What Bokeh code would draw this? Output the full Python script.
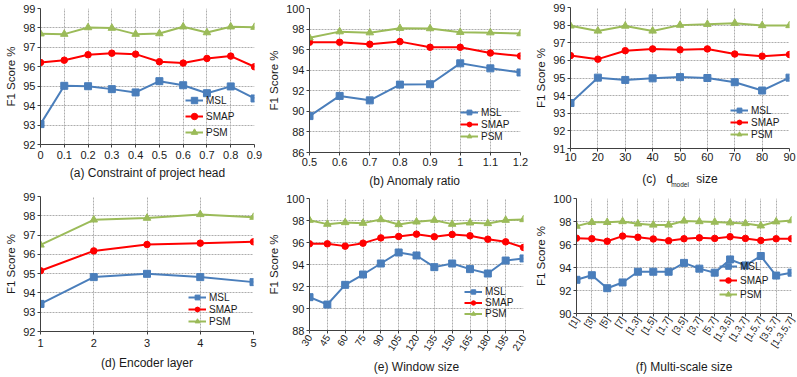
import math
from bokeh.plotting import figure
from bokeh.layouts import column, row
from bokeh.models import (Range1d, FixedTicker, CustomJSTickFormatter, Legend,
                          LegendItem, LinearAxis)
from bokeh.embed import file_html
from bokeh.resources import INLINE

FONT = "Liberation Sans"
TXT = "#1a1a1a"
MSL_COLOR = "#4A7EBB"
SMAP_COLOR = "#FF0000"
PSM_COLOR = "#9BBB59"
SERIES = ["MSL", "SMAP", "PSM"]
NB = "\u00a0"

# (a) Constraint of project head
a_x = [0, 0.1, 0.2, 0.3, 0.4, 0.5, 0.6, 0.7, 0.8, 0.9]
a_msl = [93.05, 95.02, 95.00, 94.85, 94.68, 95.26, 95.05, 94.64, 94.99, 94.37]
a_smap = [96.22, 96.34, 96.62, 96.70, 96.65, 96.26, 96.19, 96.43, 96.55, 96.00]
a_psm = [97.70, 97.68, 98.02, 97.99, 97.68, 97.71, 98.06, 97.76, 98.06, 98.04]

# (b) Anomaly ratio
b_x = [0.5, 0.6, 0.7, 0.8, 0.9, 1.0, 1.1, 1.2]
b_msl = [89.54, 91.50, 91.07, 92.60, 92.64, 94.67, 94.18, 93.78]
b_smap = [96.72, 96.72, 96.52, 96.78, 96.23, 96.23, 95.67, 95.38]
b_psm = [97.16, 97.75, 97.65, 98.08, 98.05, 97.69, 97.65, 97.56]

# (c) d_model size
c_x = [10, 20, 30, 40, 50, 60, 70, 80, 90]
c_msl = [93.58, 95.02, 94.89, 94.98, 95.05, 95.00, 94.76, 94.29, 95.02]
c_smap = [96.27, 96.07, 96.55, 96.65, 96.60, 96.65, 96.36, 96.24, 96.33]
c_psm = [97.96, 97.67, 97.95, 97.67, 98.00, 98.05, 98.11, 97.98, 97.98]

# (d) Encoder layer
d_x = [1, 2, 3, 4, 5]
d_msl = [93.43, 94.82, 94.99, 94.82, 94.56]
d_smap = [95.15, 96.18, 96.51, 96.58, 96.65]
d_psm = [96.49, 97.79, 97.88, 98.07, 97.93]

# (e) Window size
e_x = [30, 45, 60, 75, 90, 105, 120, 135, 150, 165, 180, 195, 210]
e_msl = [91.03, 90.36, 92.15, 93.09, 94.09, 95.09, 94.82, 93.76, 94.09, 93.58, 93.18, 94.36, 94.55]
e_smap = [95.88, 95.88, 95.67, 95.94, 96.42, 96.55, 96.76, 96.52, 96.73, 96.61, 96.30, 96.06, 95.55]
e_psm = [98.03, 97.67, 97.82, 97.76, 98.09, 97.64, 97.88, 98.03, 97.67, 97.79, 97.73, 98.03, 98.09]

# (f) Multi-scale size
f_cats = ["[1]", "[3]", "[5]", "[7]", "[1,3]", "[1,5]", "[1,7]", "[3,5]", "[3,7]",
          "[5,7]", "[1,3,5]", "[1,3,7]", "[1,5,7]", "[3,5,7]", "[1,3,5,7]"]
f_msl = [92.93, 93.33, 92.20, 92.70, 93.63, 93.63, 93.63, 94.40, 93.90, 93.55, 94.70, 94.18, 95.00, 93.30, 93.55]
f_smap = [96.55, 96.50, 96.28, 96.73, 96.63, 96.48, 96.33, 96.50, 96.58, 96.53, 96.68, 96.53, 96.35, 96.50, 96.50]
f_psm = [97.60, 97.93, 97.93, 98.00, 97.80, 97.70, 97.70, 98.05, 98.00, 97.95, 97.90, 97.83, 97.63, 97.98, 98.08]
f_x = list(range(len(f_cats)))

captions = ["(a) Constraint of project head", "(b) Anomaly ratio",
            "(c)" + NB * 3 + "d" + NB * 7 + "size", "(d) Encoder layer",
            "(e) Window size", "(f) Multi-scale size"]


def frange(start, stop, step):
    out = []
    v = start
    while v <= stop + 1e-9:
        out.append(round(v, 6))
        v += step
    return out


def panel(x, msl, smap, psm, yr, ystep, w, h, bl, br, bt, bb, cap,
          leg_loc, leg_h, formatter=None, xfont="11px", xangle=0.0,
          x_standoff=3, cap_standoff=4):
    p = figure(width=w, height=h, output_backend="svg", toolbar_location=None,
               x_range=Range1d(x[0], x[-1]), y_range=Range1d(yr[0], yr[1]),
               min_border_left=bl, min_border_right=br,
               min_border_top=bt, min_border_bottom=bb)
    p.outline_line_color = None
    p.background_fill_color = "white"
    p.border_fill_color = "white"

    p.xaxis.ticker = FixedTicker(ticks=list(x))
    p.yaxis.ticker = FixedTicker(ticks=frange(yr[0], yr[1], ystep))
    if formatter is not None:
        p.xaxis.formatter = formatter

    for ax in (p.xaxis[0], p.yaxis[0]):
        ax.axis_line_color = "#404040"
        ax.axis_line_width = 1
        ax.major_tick_line_color = "#404040"
        ax.major_tick_out = 3
        ax.major_tick_in = 0
        ax.minor_tick_out = 0
        ax.minor_tick_in = 0
        ax.major_label_text_font = FONT
        ax.major_label_text_color = TXT
        ax.axis_label_text_font = FONT
        ax.axis_label_text_color = TXT
        ax.axis_label_text_font_style = "normal"

    p.xaxis.major_label_text_font_size = xfont
    p.xaxis.major_label_standoff = x_standoff
    if xangle:
        p.xaxis.major_label_orientation = xangle
    p.xaxis.axis_label = cap
    p.xaxis.axis_label_text_font_size = "12px"
    p.xaxis.axis_label_standoff = cap_standoff

    p.yaxis.major_label_text_font_size = "11px"
    p.yaxis.major_label_standoff = 2
    p.yaxis.axis_label = "F1 Score %"
    p.yaxis.axis_label_text_font_size = "11.5px"
    p.yaxis.axis_label_standoff = 3

    for g in (p.xgrid[0], p.ygrid[0]):
        g.grid_line_color = "#ADADAD"
        g.grid_line_dash = "2 1"
        g.grid_line_width = 1

    items = []
    specs = [(msl, MSL_COLOR, "square", 7), (smap, SMAP_COLOR, "circle", 6.5),
             (psm, PSM_COLOR, "triangle", 7.5)]
    for name, (ys, col, mk, sz) in zip(SERIES, specs):
        lr = p.line(x, ys, line_color=col, line_width=2)
        sr = p.scatter(x, ys, marker=mk, size=sz, fill_color=col, line_color=col)
        items.append(LegendItem(label=name, renderers=[lr, sr]))

    leg = Legend(items=items, location=leg_loc, padding=0, margin=0, spacing=0,
                 label_height=leg_h, glyph_height=leg_h, glyph_width=18,
                 label_standoff=3, border_line_color=None,
                 background_fill_alpha=0, label_text_font=FONT,
                 label_text_font_size="10px", label_text_color=TXT)
    p.add_layout(leg)
    return p


dec_fmt = CustomJSTickFormatter(code="return String(Math.round(tick * 100) / 100);")
cat_fmt = CustomJSTickFormatter(
    args=dict(labels=f_cats),
    code="const i = Math.round(tick); return (i >= 0 && i < labels.length) ? labels[i] : '';")

# row 1 (height 190)
pa = panel(a_x, a_msl, a_smap, a_psm, (92, 99), 1, 265, 190, 40, 11, 8, 46, captions[0],
           (145, 4), 16, formatter=dec_fmt, x_standoff=3, cap_standoff=4)
pb = panel(b_x, b_msl, b_smap, b_psm, (86, 100), 2, 267, 190, 39, 12, 8, 38, captions[1],
           (151, 10), 12, formatter=dec_fmt, x_standoff=2, cap_standoff=5)
pc = panel(c_x, c_msl, c_smap, c_psm, (91, 99), 1, 265, 190, 35, 8, 7, 37, captions[2],
           (160, 8), 12, x_standoff=1, cap_standoff=8)
# subscript "model" of d_model: a bare extra axis whose label sits just under the caption
sub_axis = LinearAxis(ticker=FixedTicker(ticks=[]), axis_line_color=None,
                      major_tick_out=0, major_tick_in=0, minor_tick_out=0,
                      minor_tick_in=0, major_label_standoff=0,
                      axis_label="model", axis_label_text_font=FONT,
                      axis_label_text_font_size="6.5px",
                      axis_label_text_font_style="normal",
                      axis_label_text_color=TXT, axis_label_standoff=-8)
pc.add_layout(sub_axis, "below")

# row 2 (height 187)
pd_ = panel(d_x, d_msl, d_smap, d_psm, (92, 99), 1, 265, 187, 40, 12, 6, 46, captions[3],
            (148, 4), 12, x_standoff=4, cap_standoff=6)
pe = panel(e_x, e_msl, e_smap, e_psm, (88, 100), 2, 267, 187, 38, 9, 8, 47, captions[4],
           (155, 11), 11, xfont="10px", xangle=1.0, x_standoff=2, cap_standoff=3)
pf = panel(f_x, f_msl, f_smap, f_psm, (90, 100), 2, 265, 187, 37, 6, 8, 46, captions[5],
           (143, 12), 14, formatter=cat_fmt, xfont="9.5px", xangle=1.0, x_standoff=1,
           cap_standoff=5)

layout = column(row(column(pa), column(pb), column(pc)),
                row(column(pd_), column(pe), column(pf)))
open("out.html", "w").write(file_html(layout, INLINE))
